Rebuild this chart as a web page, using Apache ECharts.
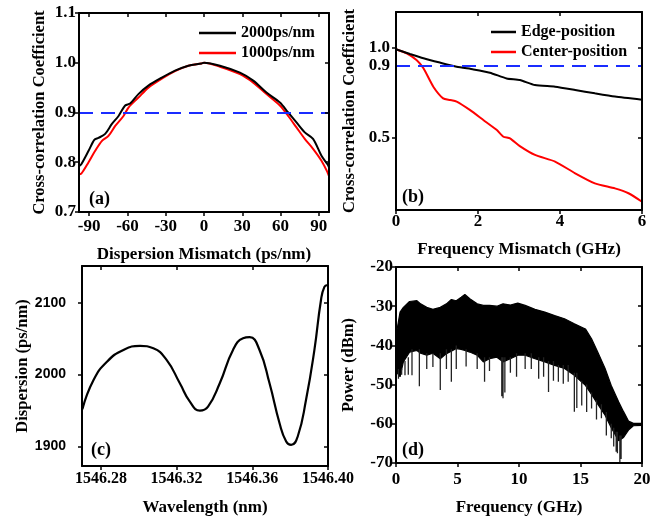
<!DOCTYPE html>
<html><head><meta charset="utf-8">
<script src="https://cdn.jsdelivr.net/npm/echarts/dist/echarts.min.js"></script>
<style>html,body{margin:0;padding:0;background:#fff}#c{width:664px;height:519px}</style>
</head><body><div id="c"></div>
<script>
// ---- Panel (a) data ----
const aX2000 = [-98,-96.2,-90.5,-86,-82.7,-77.5,-72.2,-67,-61.8,-57.9,-51.4,-43.6,-33.1,-22.7,-12.3,-2,0,12.5,28.2,38.6,49,59.5,66,72.5,79,85.5,92.1,96.8,98];
const aY2000 = [0.792,0.796,0.823,0.845,0.849,0.857,0.877,0.893,0.914,0.918,0.937,0.954,0.970,0.984,0.994,0.9986,1.0,0.994,0.980,0.964,0.940,0.920,0.900,0.880,0.860,0.847,0.813,0.796,0.79];
const aX1000 = [-98,-96.2,-90.5,-85.3,-80,-74.9,-69.6,-63.1,-59.2,-51.4,-43.6,-33.1,-22.7,-12.3,-2,0,12.5,28.2,38.6,49,59.5,66,72.5,79,85.5,92.1,96.8,98];
const aY1000 = [0.776,0.777,0.800,0.823,0.843,0.853,0.873,0.893,0.910,0.930,0.950,0.968,0.983,0.994,0.9986,1.0,0.992,0.977,0.960,0.937,0.914,0.893,0.870,0.847,0.827,0.803,0.780,0.772];
const aXTicks = [-90,-60,-30,0,30,60,90];
const aYTicks = [0.7,0.8,0.9,1.0,1.1];
const threshold = 0.9;
// ---- Panel (b) data ----
const bXEdge = [0,0.34,0.67,1.07,1.48,1.89,2.29,2.70,3.02,3.39,3.88,4.37,4.85,5.34,6.0];
const bYEdge = [0.993,0.967,0.943,0.919,0.896,0.881,0.863,0.831,0.822,0.794,0.785,0.767,0.748,0.730,0.713];
const bXCenter = [0,0.26,0.5,0.67,0.91,1.15,1.32,1.48,1.80,2.13,2.46,2.62,2.78,3.02,3.39,3.88,4.37,4.85,5.34,5.67,6.0];
const bYCenter = [0.993,0.970,0.933,0.887,0.785,0.720,0.711,0.702,0.656,0.600,0.544,0.507,0.498,0.455,0.406,0.369,0.304,0.248,0.220,0.193,0.146];
const bYLabels = [0.5,0.9,1.0];
const bYTicks = [0.5,1.0];
// ---- Panel (c) data ----
const cX = [1546.2702,1546.2761,1546.2832,1546.2919,1546.3007,1546.3077,1546.3147,1546.3217,1546.3270,1546.3323,1546.3366,1546.3428,1546.3498,1546.3551,1546.3586,1546.3638,1546.3691,1546.3744,1546.3779,1546.3805,1546.3840,1546.3884,1546.3928,1546.3963,1546.3981,1546.3998];
const cY = [1951.9,1992.6,2018,2034.3,2039.9,2036.6,2020.4,1988,1962.5,1950,1955.6,1988,2034.3,2050.5,2052,2034.3,1988,1932.5,1907,1902.4,1914,1965,2034,2103.7,2122,2124.6];
const cXTicks = [1546.28,1546.32,1546.36,1546.40];
const cYTicks = [1900,2000,2100];
// ---- Panel (d) data ----
const dX = [0,0.05,0.33,0.6,1.1,1.7,2.0,2.5,3.0,3.6,4.1,4.5,4.9,5.3,5.6,6.0,6.6,7.1,7.6,8.2,8.7,9.3,9.9,10.5,11.3,12.1,12.9,13.7,14.5,15.4,15.9,16.4,17.0,17.5,18.1,18.5,18.9,19.3,20];
const dUpper = [-38,-36.6,-31.5,-30.3,-28.8,-28.6,-29.4,-30.3,-30.8,-30.3,-29.4,-28.3,-28.6,-27.7,-27,-28.1,-29.4,-29.8,-29.8,-30,-29.4,-29.7,-29.2,-29.8,-30.8,-31.5,-32.4,-33.2,-34.5,-35.8,-38.3,-41.7,-45.9,-50.2,-54.4,-56.9,-59.3,-59.9,-59.9];
const dLower = [-48,-46.8,-48,-44.2,-41.7,-41.3,-42,-42.5,-42,-43.4,-42.1,-41.5,-40.8,-41,-41.3,-41.7,-42.5,-44.2,-43.4,-43,-44.2,-43.4,-42.5,-42.5,-43.4,-44.2,-45.1,-45.9,-47.6,-50.2,-52.5,-55,-57.8,-61,-64.3,-63.5,-61.6,-60.5,-60.4];
const dSpikes = [[0.2,-46,-48.5],[0.46,-46,-47.5],[0.73,-44,-47.6],[1.0,-43,-47.5],[1.3,-41,-47.6],[1.9,-41,-50.4],[2.5,-42,-46],[3.0,-42,-45.5],[3.6,-42,-51.4],[4.1,-41,-46],[4.5,-41,-49.3],[4.9,-40,-46],[5.7,-41,-45.4],[6.6,-42,-46],[7.2,-43,-49.3],[7.6,-43,-46.5],[8.6,-43,-53],[8.7,-43,-53.5],[8.85,-43,-52],[9.3,-43,-47],[9.8,-42,-48],[10.5,-42,-46],[11.0,-42,-46],[11.6,-43,-48.5],[12.0,-43,-48],[12.4,-44,-51.9],[12.8,-44,-49],[13.2,-45,-49.3],[13.6,-45,-49.8],[14.0,-45,-49.3],[14.5,-47,-56.9],[14.7,-47,-56],[15.1,-49,-55.3],[15.5,-50,-57],[15.9,-52,-56.1],[16.3,-54,-58.9],[16.7,-55,-58.6],[17.1,-57,-63],[17.5,-60,-63.7],[17.7,-61,-65.8],[17.9,-62,-67.1],[18.0,-62,-67.5],[18.2,-63,-70],[18.3,-63,-69]];

const zip = (xs, ys) => xs.map((x, i) => [x, ys[i]]);
const SERIF = 'Liberation Serif';
const txt = (size, fam) => ({fontFamily: fam || SERIF, fontWeight: 'bold', fontSize: size || 17, color: '#000'});

function xPair(g, min, max, ticks, margin, name, nameGap, labelFam, labelSize, fmt) {
  const line = {onZero: false, lineStyle: {color: '#000', width: 2}};
  return [
    {gridIndex: g, type: 'value', min, max, position: 'bottom', z: 10, axisLine: line,
     axisTick: {inside: false, length: 4, lineStyle: {color: '#000', width: 1.5}, customValues: ticks},
     axisLabel: Object.assign({customValues: ticks, margin, formatter: fmt}, txt(labelSize, labelFam)),
     splitLine: {show: false}, name, nameLocation: 'middle', nameGap, nameTextStyle: txt(17)},
    {gridIndex: g, type: 'value', min, max, position: 'top', z: 10, axisLine: line,
     axisTick: {inside: true, length: 4, lineStyle: {color: '#000', width: 1.5}, customValues: ticks},
     axisLabel: {show: false}, splitLine: {show: false}}
  ];
}
function yPair(g, min, max, ticks, labels, margin, name, nameGap, labelFam, labelSize, fmt) {
  const line = {onZero: false, lineStyle: {color: '#000', width: 2}};
  return [
    {gridIndex: g, type: 'value', min, max, position: 'left', z: 10, axisLine: line,
     axisTick: {inside: false, length: 4, lineStyle: {color: '#000', width: 1.5}, customValues: ticks},
     axisLabel: Object.assign({customValues: labels, margin, formatter: fmt}, txt(labelSize, labelFam)),
     splitLine: {show: false}, name, nameLocation: 'middle', nameGap, nameTextStyle: txt(16.5)},
    {gridIndex: g, type: 'value', min, max, position: 'right', z: 10, axisLine: line,
     axisTick: {inside: true, length: 4, lineStyle: {color: '#000', width: 1.5}, customValues: ticks},
     axisLabel: {show: false}, splitLine: {show: false}}
  ];
}
const f1 = v => v.toFixed(1);
const f2 = v => v.toFixed(2);
const f0 = v => String(Math.round(v));

const xAxes = [].concat(
  xPair(0, -98, 98, aXTicks, 6, 'Dispersion Mismatch (ps/nm)', 34),
  xPair(1, 0, 6, [0,2,4,6], 3, 'Frequency Mismatch (GHz)', 31),
  xPair(2, 1546.27, 1546.40, cXTicks, 5, 'Wavelength (nm)', 33, SERIF, 16, f2),
  xPair(3, 0, 20, [0,5,10,15,20], 8, 'Frequency (GHz)', 36)
);
const yAxes = [].concat(
  yPair(0, 0.7, 1.1, aYTicks, aYTicks, 3, 'Cross-correlation Coefficient', 31, SERIF, 17, f1),
  yPair(1, 0.1, 1.2, bYTicks, bYLabels, 6, 'Cross-correlation Coefficient', 38, SERIF, 17, f1),
  yPair(2, 1873, 2151, cYTicks, cYTicks, 16, 'Dispersion (ps/nm)', 51, 'Liberation Sans', 14, f0),
  yPair(3, -70, -20, [-70,-60,-50,-40,-30,-20], [-70,-60,-50,-40,-30,-20], 3, 'Power (dBm)', 39)
);

const dash = {silent: true, symbol: 'none', label: {show: false},
  lineStyle: {color: '#1a2cff', width: 2, type: [14, 8]}, data: [{yAxis: threshold}]};

const spikeData = [];
dSpikes.forEach(s => { spikeData.push([s[0], s[1]], [s[0], s[2]], [s[0], '-']); });

const legendCommon = {orient: 'vertical', padding: 0, icon: 'rect', itemHeight: 2.5, itemGap: 2, textStyle: Object.assign({lineHeight: 18}, txt(16))};
const option = {
  animation: false,
  backgroundColor: '#fff',
  grid: [
    {left: 79, top: 13, width: 250, height: 199},
    {left: 396, top: 12, width: 246, height: 198},
    {left: 82, top: 266, width: 246, height: 200},
    {left: 396, top: 267, width: 246, height: 196}
  ],
  xAxis: xAxes,
  yAxis: yAxes,
  legend: [
    Object.assign({data: ['2000ps/nm', '1000ps/nm'], left: 199, top: 24, itemWidth: 37}, legendCommon),
    Object.assign({data: ['Edge-position', 'Center-position'], left: 491, top: 23, itemWidth: 25}, legendCommon)
  ],
  graphic: [
    {type: 'text', left: 89, top: 190, z: 100, style: {text: '(a)', font: 'bold 18px "Liberation Serif"', fill: '#000'}},
    {type: 'text', left: 402, top: 188, z: 100, style: {text: '(b)', font: 'bold 18px "Liberation Serif"', fill: '#000'}},
    {type: 'text', left: 91, top: 441, z: 100, style: {text: '(c)', font: 'bold 18px "Liberation Serif"', fill: '#000'}},
    {type: 'text', left: 402, top: 441, z: 100, style: {text: '(d)', font: 'bold 18px "Liberation Serif"', fill: '#000'}}
  ],
  series: [
    {name: '1000ps/nm', type: 'line', xAxisIndex: 0, yAxisIndex: 0, data: zip(aX1000, aY1000), smooth: 0.3, symbol: 'none', lineStyle: {color: '#f00', width: 2}, itemStyle: {color: '#f00'}},
    {name: '2000ps/nm', type: 'line', xAxisIndex: 0, yAxisIndex: 0, data: zip(aX2000, aY2000), smooth: 0.3, symbol: 'none', lineStyle: {color: '#000', width: 2}, itemStyle: {color: '#000'}, markLine: dash},
    {name: 'Center-position', type: 'line', xAxisIndex: 2, yAxisIndex: 2, data: zip(bXCenter, bYCenter), smooth: 0.2, symbol: 'none', lineStyle: {color: '#f00', width: 2}, itemStyle: {color: '#f00'}},
    {name: 'Edge-position', type: 'line', xAxisIndex: 2, yAxisIndex: 2, data: zip(bXEdge, bYEdge), smooth: 0.2, symbol: 'none', lineStyle: {color: '#000', width: 2}, itemStyle: {color: '#000'}, markLine: dash},
    {name: 'disp', type: 'line', xAxisIndex: 4, yAxisIndex: 4, data: zip(cX, cY), smooth: 0.5, symbol: 'none', lineStyle: {color: '#000', width: 2.2}},
    {name: 'upper', type: 'line', xAxisIndex: 6, yAxisIndex: 6, data: zip(dX, dUpper), symbol: 'none', lineStyle: {color: '#000', width: 1.2}, areaStyle: {color: '#000', opacity: 1, origin: 'start'}},
    {name: 'lower', type: 'line', xAxisIndex: 6, yAxisIndex: 6, data: zip(dX, dLower), symbol: 'none', lineStyle: {color: '#000', width: 1.2}, areaStyle: {color: '#fff', opacity: 1, origin: 'start'}},
    {name: 'spikes', type: 'line', xAxisIndex: 6, yAxisIndex: 6, data: spikeData, symbol: 'none', connectNulls: false, lineStyle: {color: '#222', width: 1.3}}
  ]
};
const chart = echarts.init(document.getElementById('c'), null, {renderer: 'canvas'});
chart.setOption(option);
</script></body></html>
